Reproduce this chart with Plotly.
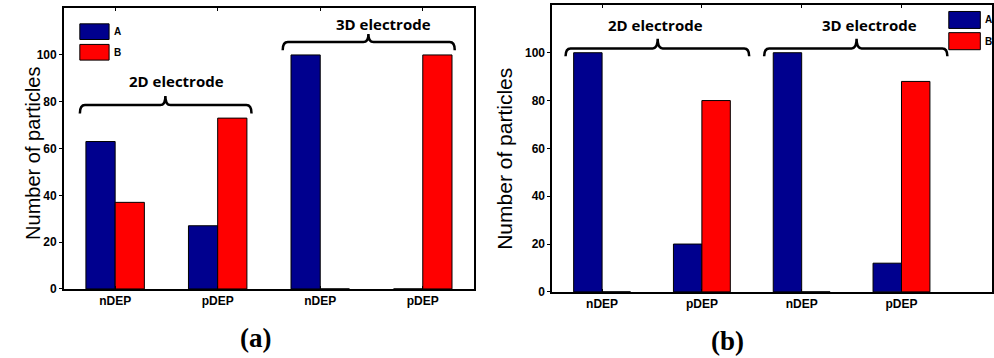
import plotly.graph_objects as go

# ---- data ----
categories = ["nDEP", "pDEP", "nDEP", "pDEP"]
positions = [1, 2, 3, 4]
a_series_A = [63, 27, 100, 0]
a_series_B = [37, 73, 0, 100]
b_series_A = [100, 20, 100, 12]
b_series_B = [0, 80, 0, 88]
series_names = ["A", "B"]
y_ticks = [0, 20, 40, 60, 80, 100]
group_labels = ["2D electrode", "3D electrode"]
y_title = "Number of particles"
captions = ["(a)", "(b)"]

BLUE = "#00008E"
RED = "#FF0000"
W, H = 994, 358


def px(x):
    return x / W


def py(y):
    return 1 - y / H


fig = go.Figure()
line = dict(color="black", width=1)
fig.add_trace(go.Bar(x=positions, y=a_series_A, name=series_names[0], marker=dict(color=BLUE, line=line),
                     xaxis="x", yaxis="y", showlegend=False))
fig.add_trace(go.Bar(x=positions, y=a_series_B, name=series_names[1], marker=dict(color=RED, line=line),
                     xaxis="x", yaxis="y", showlegend=False))
fig.add_trace(go.Bar(x=positions, y=b_series_A, name=series_names[0], marker=dict(color=BLUE, line=line),
                     xaxis="x2", yaxis="y2", showlegend=False))
fig.add_trace(go.Bar(x=positions, y=b_series_B, name=series_names[1], marker=dict(color=RED, line=line),
                     xaxis="x2", yaxis="y2", showlegend=False))

tickfont = dict(family="Liberation Sans", size=12, color="black", weight="bold")
xcommon = dict(tickvals=positions, ticktext=categories, showline=True, mirror="allticks", linecolor="black",
               linewidth=1.5, showgrid=False, zeroline=False, ticks="inside", ticklen=3, tickwidth=1,
               tickcolor="black", tickfont=tickfont, fixedrange=True)
ycommon = dict(range=[0, 120], tickvals=y_ticks, showline=True, mirror=True, linecolor="black",
               linewidth=1.5, showgrid=False, zeroline=False, ticks="outside", ticklen=3, tickwidth=1,
               tickcolor="black", tickfont=tickfont, fixedrange=True)

fig.update_layout(
    width=W, height=H, margin=dict(l=0, r=0, t=0, b=0),
    paper_bgcolor="white", plot_bgcolor="white",
    barmode="group", bargap=0.43, bargroupgap=0,
    xaxis=dict(domain=[px(64), px(475)], range=[0.5, 4.5], anchor="y", **xcommon),
    yaxis=dict(domain=[py(294.7), py(8.3)], anchor="x", **ycommon),
    xaxis2=dict(domain=[px(553.3), 1.0], range=[0.5, 4.907], anchor="y2", **xcommon),
    yaxis2=dict(domain=[py(297.7), py(5)], anchor="x2", **ycommon),
)


def brace(xref, yref, x0, x1, xc, yh, yend, ytop, r=0.05):
    path = (f"M {x0},{yend} Q {x0},{yh} {x0 + r},{yh} L {xc - r},{yh} "
            f"Q {xc},{yh} {xc},{ytop} Q {xc},{yh} {xc + r},{yh} "
            f"L {x1 - r},{yh} Q {x1},{yh} {x1},{yend}")
    return dict(type="path", path=path, xref=xref, yref=yref,
                line=dict(color="black", width=2.5))


shapes = [
    brace("x", "y", 0.656, 2.33, 1.49, 78.6, 75.0, 82.5),
    brace("x", "y", 2.634, 4.312, 3.47, 105.5, 102.0, 109.0),
    brace("x2", "y2", 0.634, 2.474, 1.557, 101.8, 98.5, 105.8),
    brace("x2", "y2", 2.624, 4.46, 3.55, 101.8, 98.5, 105.8),
]

# legend swatches
legend_boxes = [
    (80, 109.3, 24.3, 40.3, BLUE), (80, 109.3, 45.3, 61.3, RED),
    (950.7, 982.3, 11.7, 29.0, BLUE), (950.7, 982.3, 33.3, 50.7, RED),
]
for x0, x1, y0, y1, c in legend_boxes:
    shapes.append(dict(type="rect", xref="paper", yref="paper", x0=px(x0), x1=px(x1), y0=py(y1), y1=py(y0),
                       fillcolor=c, line=dict(color="black", width=1)))

fig.update_layout(shapes=shapes)

annotations = []
labfont = dict(family="Open Sans", size=15, color="black", weight="bold")
annotations.append(dict(x=1.597, y=89.0, xref="x", yref="y", text=group_labels[0], showarrow=False, font=labfont))
annotations.append(dict(x=3.62, y=113.1, xref="x", yref="y", text=group_labels[1], showarrow=False, font=labfont))
annotations.append(dict(x=1.534, y=111.6, xref="x2", yref="y2", text=group_labels[0], showarrow=False, font=labfont))
annotations.append(dict(x=3.684, y=111.6, xref="x2", yref="y2", text=group_labels[1], showarrow=False, font=labfont))

legfont = dict(family="Liberation Sans", size=10, color="black", weight="bold")
for (xl, yc, name) in [(112, 32.3, series_names[0]), (112, 53.3, series_names[1]),
                       (985, 20.3, series_names[0]), (985, 42.0, series_names[1])]:
    annotations.append(dict(x=px(xl), y=py(yc), xref="paper", yref="paper", text=name, showarrow=False,
                            xanchor="left", yanchor="middle", font=legfont))

titfont = dict(family="Liberation Sans", size=20, color="black")
annotations.append(dict(x=px(20), y=py(156), xref="paper", yref="paper", text=y_title, textangle=-90,
                        showarrow=False, font=titfont))
annotations.append(dict(x=px(506), y=py(162), xref="paper", yref="paper", text=y_title, textangle=-90,
                        showarrow=False, font=dict(family="Liberation Sans", size=21, color="black")))

capfont = dict(family="Liberation Serif", size=27, color="black", weight="bold")
annotations.append(dict(x=px(238), y=py(362), xref="paper", yref="paper", text=captions[0], showarrow=False,
                        yanchor="bottom", font=capfont))
annotations.append(dict(x=px(748), y=py(365), xref="paper", yref="paper", text=captions[1], showarrow=False,
                        yanchor="bottom", font=capfont))

fig.update_layout(annotations=annotations)

fig.write_html("out.html")
